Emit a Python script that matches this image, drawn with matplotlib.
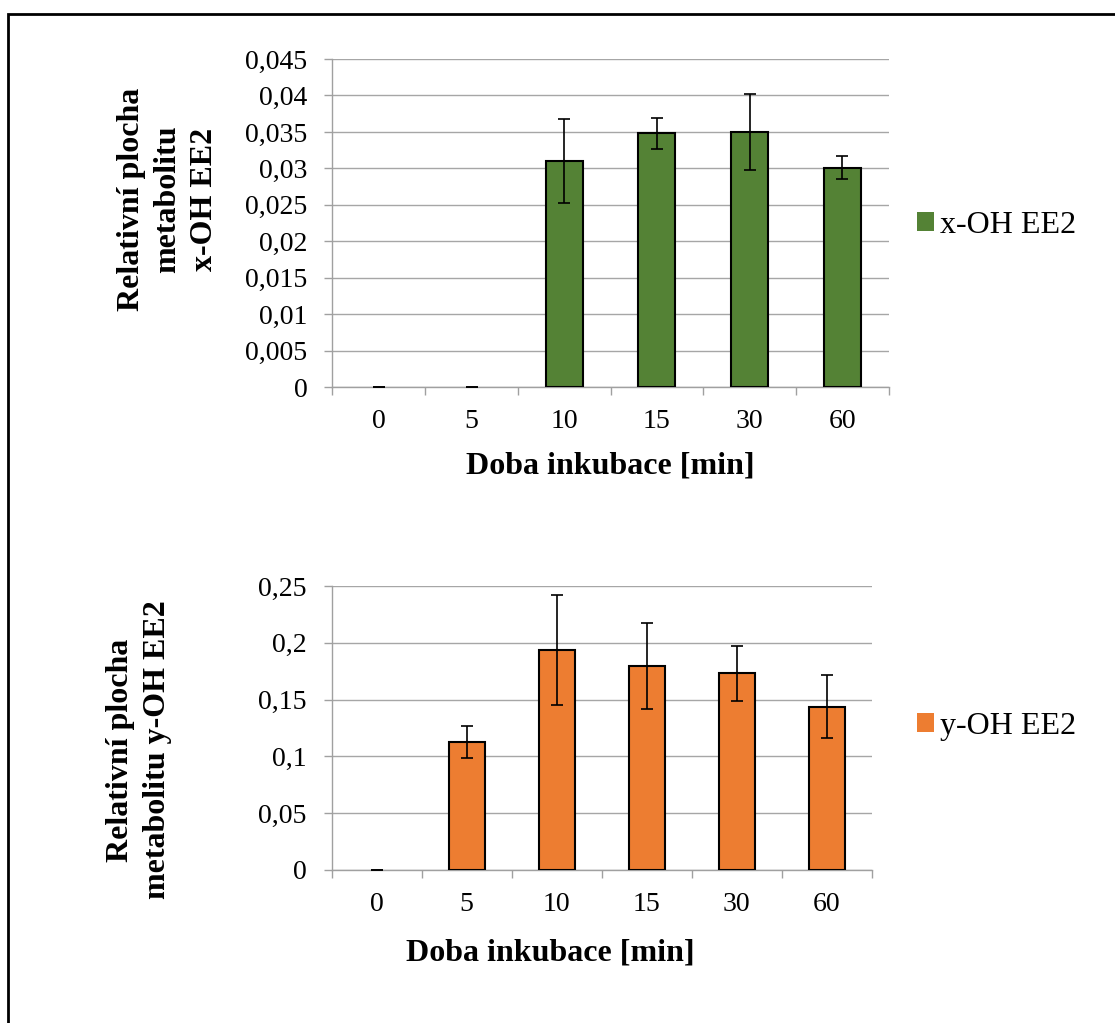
import matplotlib.pyplot as plt
import numpy as np
from matplotlib.patches import Rectangle
from matplotlib.ticker import FixedLocator, FuncFormatter

plt.rcParams.update({
    "font.family": ["Liberation Serif", "DejaVu Serif"],
    "font.size": 20,
})

times = ["0", "5", "10", "15", "30", "60"]

x_oh = [0, 0, 0.0310, 0.0348, 0.0350, 0.0301]
x_oh_err = [0, 0, 0.0058, 0.0021, 0.0052, 0.0016]

y_oh = [0, 0.1125, 0.1940, 0.1795, 0.1730, 0.1437]
y_oh_err = [0, 0.0143, 0.0484, 0.0381, 0.0244, 0.0275]

BIG = 23


def comma_fmt(v, pos):
    return "{:g}".format(round(v, 4)).replace(".", ",")


def draw_panel(ax, vals, errs, color, ymax, ystep, label, xlab_x, xlab_y):
    x = np.arange(len(times))
    lw = [1.5 if v > 0 else 0 for v in vals]
    ax.bar(x, vals, width=0.4, color=color, edgecolor="black", linewidth=lw,
           label=label, zorder=3)
    ax.errorbar(x, vals, yerr=errs, fmt="none", ecolor="black", elinewidth=1.2,
                capsize=4.5, capthick=1.2, zorder=4)
    ax.set_xlim(-0.5, len(times) - 0.5)
    ax.set_ylim(0, ymax)
    ax.set_yticks(np.arange(0, ymax + ystep / 2, ystep))
    ax.yaxis.set_major_formatter(FuncFormatter(comma_fmt))
    ax.set_xticks(x)
    ax.set_xticklabels(times)
    ax.xaxis.set_minor_locator(FixedLocator(np.arange(-0.5, len(times), 1)))
    ax.tick_params(axis="x", which="major", length=0, pad=16)
    ax.tick_params(axis="x", which="minor", length=6, color="#a0a0a0", width=1)
    ax.tick_params(axis="y", length=6, color="#a0a0a0", width=1, pad=12)
    ax.grid(axis="y", color="#a6a6a6", linewidth=1, zorder=0)
    ax.set_axisbelow(True)
    for s in ["top", "right"]:
        ax.spines[s].set_visible(False)
    for s in ["left", "bottom"]:
        ax.spines[s].set_color("#a0a0a0")
        ax.spines[s].set_linewidth(1)
    ax.set_xlabel("Doba inkubace [min]", fontweight="bold", fontsize=BIG)
    ax.xaxis.label.set_va("center")
    ax.xaxis.set_label_coords(xlab_x, xlab_y)


fig = plt.figure(figsize=(11.15, 10.23), dpi=100)

ax1 = fig.add_axes([0.2982, 0.6217, 0.4988, 0.3206])
draw_panel(ax1, x_oh, x_oh_err, "#548235", 0.045, 0.005, "x-OH EE2", 0.5, -0.241)

ax2 = fig.add_axes([0.2975, 0.1496, 0.4843, 0.2776])
draw_panel(ax2, y_oh, y_oh_err, "#ED7D31", 0.25, 0.05, "y-OH EE2", 0.404, -0.292)

fig.text(0.1507, 0.8055, "Relativní plocha\nmetabolitu\nx-OH EE2", rotation=90,
         ha="center", va="center", multialignment="center", fontweight="bold",
         fontsize=BIG, linespacing=1.35)
fig.text(0.1247, 0.2669, "Relativní plocha\nmetabolitu y-OH EE2", rotation=90,
         ha="center", va="center", multialignment="center", fontweight="bold",
         fontsize=BIG, linespacing=1.35)

for ax, ypos in [(ax1, 0.78), (ax2, 0.29)]:
    ax.legend(loc="center left", bbox_to_anchor=(0.822, ypos),
              bbox_transform=fig.transFigure, frameon=False, borderpad=0,
              borderaxespad=0, handlelength=0.55, handleheight=0.55,
              handletextpad=0.2, fontsize=BIG)

# outer frame (only top and left edges fall inside the image)
fig.patches.append(Rectangle((8 / 1115, -0.1), 1.2, 1.1 - 14 / 1023,
                             transform=fig.transFigure, fill=False,
                             edgecolor="black", linewidth=2))

plt.savefig("out.png", dpi=100)
